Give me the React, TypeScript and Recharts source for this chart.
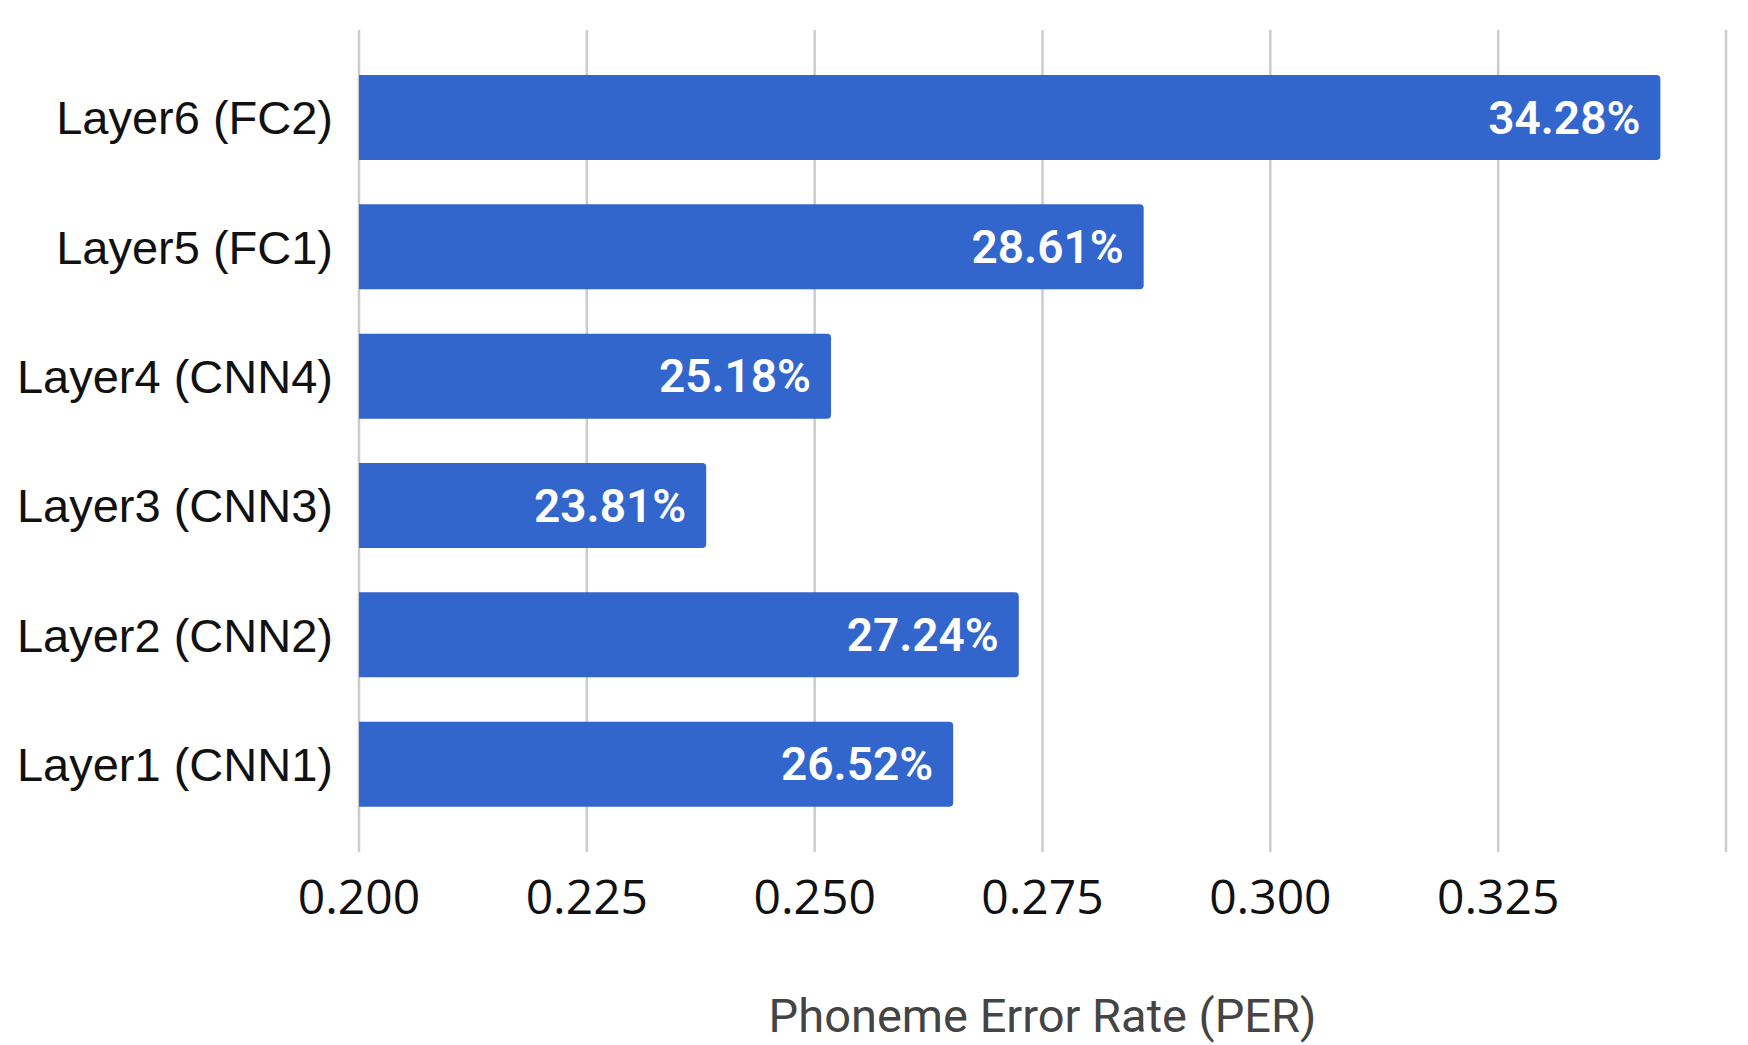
import { BarChart, Bar, XAxis, YAxis, CartesianGrid, LabelList, Label } from "recharts";

const layers = ["Layer6 (FC2)", "Layer5 (FC1)", "Layer4 (CNN4)", "Layer3 (CNN3)", "Layer2 (CNN2)", "Layer1 (CNN1)"];
const per = [0.3428, 0.2861, 0.2518, 0.2381, 0.2724, 0.2652];
const xTicks = [0.2, 0.225, 0.25, 0.275, 0.3, 0.325, 0.35];

const data = layers.map((name, i) => ({ name, value: per[i] }));

export default function App() {
  return (
    <div style={{ position: "absolute", left: 0, top: 0, background: "#fff" }}>
      <BarChart
        width={1748}
        height={1045}
        data={data}
        layout="vertical"
        margin={{ top: 30, right: 22, left: 0, bottom: 0 }}
      >
        <CartesianGrid horizontal={false} stroke="#cccccc" strokeWidth={2.5} />
        <XAxis
          type="number"
          domain={[0.2, 0.35]}
          ticks={xTicks}
          height={193}
          axisLine={false}
          tickLine={false}
          tickSize={0}
          tickMargin={28}
          tick={{ fill: "#111", fontSize: 48, fontFamily: "Open Sans" }}
          tickFormatter={(v: number) => (v >= 0.35 ? "" : v.toFixed(3))}
        >
          <Label
            value="Phoneme Error Rate (PER)"
            position="insideBottom"
            offset={13}
            fill="#444"
            fontSize={47}
            fontFamily="Roboto"
          />
        </XAxis>
        <YAxis
          type="category"
          dataKey="name"
          width={359}
          padding={{ top: 23, bottom: 23 }}
          axisLine={false}
          tickLine={false}
          tickSize={0}
          tickMargin={26}
          tick={{ fill: "#111", fontSize: 47, fontFamily: "Liberation Sans" }}
        />
        <Bar dataKey="value" fill="#3366cc" barSize={85} radius={[0, 4, 4, 0]} isAnimationActive={false}>
          <LabelList
            dataKey="value"
            position="insideRight"
            offset={20}
            fill="#fff"
            fontSize={46}
            fontWeight={600}
            fontFamily="Roboto"
            formatter={(v: any) => (Number(v) * 100).toFixed(2) + "%"}
          />
        </Bar>
      </BarChart>
    </div>
  );
}
